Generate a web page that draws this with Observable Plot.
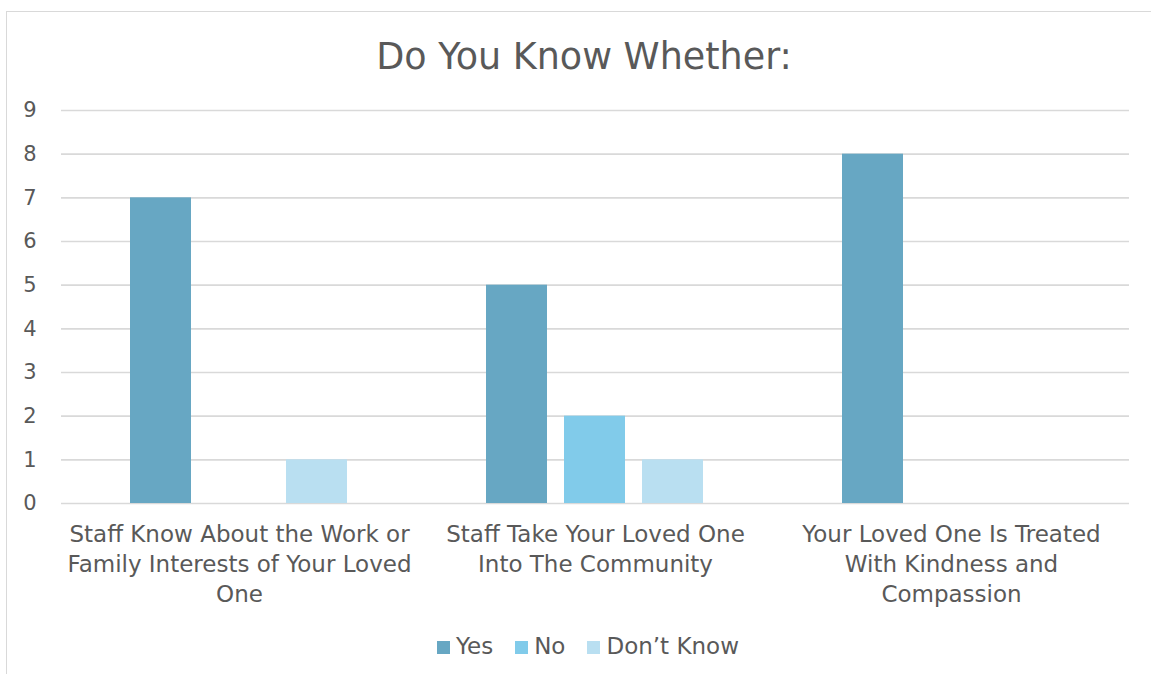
<!DOCTYPE html>
<html>
<head>
<meta charset="utf-8">
<script src="https://cdn.jsdelivr.net/npm/d3@7"></script>
<script src="https://cdn.jsdelivr.net/npm/@observablehq/plot@0.6"></script>
<style>
  html, body { margin: 0; padding: 0; background: #fff; width: 1151px; height: 674px; overflow: hidden; }
  body { font-family: "DejaVu Sans", sans-serif; color: #595959; position: relative; }
  #frame { position: absolute; left: 6px; top: 11px; width: 1170px; height: 700px; border: 1px solid #d9d9d9; box-sizing: border-box; }
  #title { position: absolute; left: 0; width: 1168px; top: 39px; text-align: center; font-size: 36.5px; line-height: 36px; color: #595959; }
  #chart { position: absolute; left: 0; top: 0; }
  #legend { position: absolute; left: 0; width: 1176px; top: 632px; text-align: center; font-size: 23px; line-height: 28px; color: #595959; }
  #legend span.item { display: inline-block; margin: 0 11px; }
  #legend span.sw { display: inline-block; width: 13px; height: 13px; margin-right: 6px; vertical-align: 0px; }
</style>
</head>
<body>
<div id="frame"></div>
<div id="title">Do You Know Whether:</div>
<div id="chart"></div>
<div id="legend"></div>
<script>
// ---- data ----
const categories = [
  "Staff Know About the Work or Family Interests of Your Loved One",
  "Staff Take Your Loved One Into The Community",
  "Your Loved One Is Treated With Kindness and Compassion"
];
const categoryLabels = [
  "Staff Know About the Work or\nFamily Interests of Your Loved\nOne",
  "Staff Take Your Loved One\nInto The Community",
  "Your Loved One Is Treated\nWith Kindness and\nCompassion"
];
const series = ["Yes", "No", "Don\u2019t Know"];
const yesValues = [7, 5, 8];
const noValues = [0, 2, 0];
const dontKnowValues = [1, 1, 0];
const colors = ["#67a7c3", "#81cbea", "#b9dff1"];
const yTicks = [0, 1, 2, 3, 4, 5, 6, 7, 8, 9];

const seriesValues = [yesValues, noValues, dontKnowValues];
const rows = [];
categories.forEach((c, i) => {
  series.forEach((s, j) => {
    rows.push({category: c, series: s, value: seriesValues[j][i]});
  });
});
const labelOf = new Map(categories.map((c, i) => [c, categoryLabels[i]]));

const chart = Plot.plot({
  width: 1151,
  height: 620,
  marginTop: 110,
  marginBottom: 117,
  marginLeft: 60,
  marginRight: 21,
  style: {fontFamily: "DejaVu Sans, sans-serif", color: "#595959", background: "transparent"},
  fx: {domain: categories, padding: 0, label: null},
  x: {domain: series, axis: null, paddingInner: 0.216, paddingOuter: 0.874},
  y: {domain: [0, 9], label: null},
  color: {domain: series, range: colors},
  marks: [
    Plot.gridY(yTicks, {stroke: "#d9d9d9", strokeOpacity: 1, strokeWidth: 1.6}),
    Plot.axisY(yTicks, {tickSize: 0, tickPadding: 25, fontSize: 21, fill: "#595959", label: null}),
    Plot.axisFx({anchor: "bottom", tickSize: 0, tickPadding: 17, fontSize: 23, lineHeight: 1.3, fill: "#595959", label: null, tickFormat: d => labelOf.get(d)}),
    Plot.barY(rows, {fx: "category", x: "series", y: "value", fill: "series"})
  ]
});
document.getElementById("chart").appendChild(chart);

const legend = document.getElementById("legend");
series.forEach((s, i) => {
  const item = document.createElement("span");
  item.className = "item";
  const sw = document.createElement("span");
  sw.className = "sw";
  sw.style.background = colors[i];
  item.appendChild(sw);
  item.appendChild(document.createTextNode(s));
  legend.appendChild(item);
});
</script>
</body>
</html>
